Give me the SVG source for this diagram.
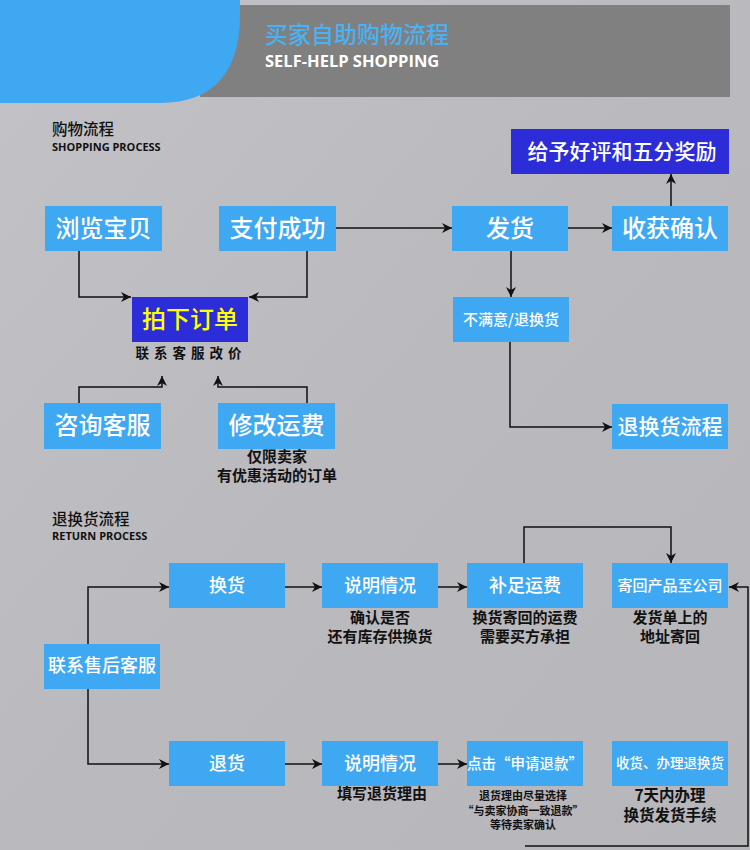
<svg xmlns="http://www.w3.org/2000/svg" width="750" height="850" viewBox="0 0 750 850">
  <defs>
    <linearGradient id="bg" x1="0" y1="0" x2="1" y2="1">
      <stop offset="0" stop-color="#c3c2c7"/>
      <stop offset="0.5" stop-color="#bab9be"/>
      <stop offset="1" stop-color="#b7b6bb"/>
    </linearGradient>
    <marker id="arr" viewBox="0 0 10 10" refX="10" refY="5" markerWidth="10" markerHeight="10" markerUnits="userSpaceOnUse" orient="auto">
      <path d="M0,0 L10,5 L0,10 L3,5 Z" fill="#111"/>
    </marker>
    <style>
      .box{fill:#3fa8f2}
      .dark{fill:#2c2cd8}
      .bt{font-family:"Noto Sans CJK SC","Noto Sans",sans-serif;fill:#fff;text-anchor:middle;font-weight:500}
      .note{font-family:"Noto Sans CJK SC","Noto Sans",sans-serif;fill:#111;text-anchor:middle;font-weight:700}
      .ttl{font-family:"Noto Sans CJK SC","Noto Sans",sans-serif;fill:#111;font-weight:500}
      .en{font-family:"Open Sans","Noto Sans",sans-serif;fill:#111;font-weight:700}
      .la{fill:none;stroke:#111;stroke-width:1.5;marker-end:url(#arr)}
    </style>
  </defs>
  <rect width="750" height="850" fill="url(#bg)"/>

  <g id="header">
    <rect x="200" y="5" width="530" height="92" fill="#808080"/>
    <path d="M0,0 H240 V15 C240,70 215,103 160,103 H0 Z" fill="#3fa8f2"/>
    <text x="265" y="43" font-family="'Noto Sans CJK SC',sans-serif" font-size="23" fill="#4ab2f2" font-weight="500">买家自助购物流程</text>
    <text x="265" y="67" font-family="'Open Sans','Noto Sans',sans-serif" font-size="16.5" fill="#fff" font-weight="700">SELF-HELP SHOPPING</text>
  </g>

  <g id="title-shopping">
    <text class="ttl" x="52" y="135" font-size="15.5">购物流程</text>
    <text class="en" x="52" y="151" font-size="11">SHOPPING PROCESS</text>
  </g>
  <g id="title-return">
    <text class="ttl" x="52" y="525" font-size="15.5">退换货流程</text>
    <text class="en" x="52" y="540" font-size="11">RETURN PROCESS</text>
  </g>

  <g id="connectors">
    <polyline class="la" points="79,251 79,297 131,297"/>
    <polyline class="la" points="307,251 307,297 249,297"/>
    <polyline class="la" points="79,403 79,387 162,387 162,376"/>
    <polyline class="la" points="307,403 307,387 218,387 218,376"/>
    <line class="la" x1="336" y1="228" x2="452" y2="228"/>
    <line class="la" x1="568" y1="228" x2="612" y2="228"/>
    <line class="la" x1="671" y1="206" x2="671" y2="174"/>
    <line class="la" x1="511" y1="251" x2="511" y2="297"/>
    <polyline class="la" points="510,342 510,427 612,427"/>

    <polyline class="la" points="88,666 88,587 169,587"/>
    <polyline class="la" points="88,689 88,764 169,764"/>
    <line class="la" x1="285" y1="587" x2="322" y2="587"/>
    <line class="la" x1="438" y1="587" x2="467" y2="587"/>
    <polyline class="la" points="524,563 524,527 671,527 671,563"/>
    <polyline class="la" points="525,846 748,846 748,587 729,587"/>
    <line class="la" x1="285" y1="764" x2="322" y2="764"/>
    <line class="la" x1="438" y1="764" x2="467" y2="764"/>
  </g>

  <g id="n-browse"><rect class="box" x="45" y="206" width="117" height="45"/><text class="bt" x="103.5" y="237" font-size="24">浏览宝贝</text></g>
  <g id="n-pay"><rect class="box" x="219" y="206" width="117" height="45"/><text class="bt" x="277.5" y="237" font-size="24">支付成功</text></g>
  <g id="n-order"><rect class="dark" x="132" y="297" width="116" height="45"/><text class="bt" x="190" y="328" font-size="24" style="fill:#ffff00">拍下订单</text>
    <text class="note" x="191" y="358" font-size="13.5" letter-spacing="5">联系客服改价</text></g>
  <g id="n-consult"><rect class="box" x="44" y="403" width="117" height="46"/><text class="bt" x="102.5" y="434" font-size="24">咨询客服</text></g>
  <g id="n-fee"><rect class="box" x="218" y="403" width="117" height="46"/><text class="bt" x="276.5" y="434" font-size="24">修改运费</text>
    <text class="note" x="277" y="462" font-size="15">仅限卖家</text>
    <text class="note" x="277" y="481" font-size="15">有优惠活动的订单</text></g>
  <g id="n-ship"><rect class="box" x="452" y="206" width="116" height="45"/><text class="bt" x="510" y="237" font-size="24">发货</text></g>
  <g id="n-confirm"><rect class="box" x="612" y="206" width="116" height="45"/><text class="bt" x="670" y="237" font-size="24">收获确认</text></g>
  <g id="n-praise"><rect class="dark" x="511" y="129" width="218" height="45"/><text class="bt" x="622" y="159" font-size="21">给予好评和五分奖励</text></g>
  <g id="n-unsat"><rect class="box" x="453" y="297" width="116" height="45"/><text class="bt" x="511" y="325" font-size="15">不满意/退换货</text></g>
  <g id="n-returnflow"><rect class="box" x="612" y="404" width="116" height="45"/><text class="bt" x="670" y="434" font-size="21">退换货流程</text></g>

  <g id="n-contact"><rect class="box" x="44" y="644" width="116" height="45"/><text class="bt" x="102" y="672" font-size="18">联系售后客服</text></g>
  <g id="n-exchange"><rect class="box" x="169" y="563" width="116" height="45"/><text class="bt" x="227" y="592" font-size="18">换货</text></g>
  <g id="n-explain1"><rect class="box" x="322" y="563" width="116" height="45"/><text class="bt" x="380" y="592" font-size="18">说明情况</text>
    <text class="note" x="380" y="623" font-size="15">确认是否</text>
    <text class="note" x="380" y="642" font-size="15">还有库存供换货</text></g>
  <g id="n-topup"><rect class="box" x="467" y="563" width="116" height="45"/><text class="bt" x="525" y="592" font-size="18">补足运费</text>
    <text class="note" x="525" y="623" font-size="15">换货寄回的运费</text>
    <text class="note" x="525" y="642" font-size="15">需要买方承担</text></g>
  <g id="n-sendback"><rect class="box" x="612" y="563" width="116" height="45"/><text class="bt" x="670" y="591" font-size="15">寄回产品至公司</text>
    <text class="note" x="670" y="623" font-size="15">发货单上的</text>
    <text class="note" x="670" y="642" font-size="15">地址寄回</text></g>
  <g id="n-refund"><rect class="box" x="169" y="741" width="116" height="45"/><text class="bt" x="227" y="770" font-size="18">退货</text></g>
  <g id="n-explain2"><rect class="box" x="322" y="741" width="116" height="45"/><text class="bt" x="380" y="770" font-size="18">说明情况</text>
    <text class="note" x="382" y="799" font-size="15">填写退货理由</text></g>
  <g id="n-apply"><rect class="box" x="467" y="741" width="116" height="45"/><text class="bt" x="525" y="769" font-size="14.5">点击“申请退款”</text>
    <text class="note" x="523" y="800" font-size="11">退货理由尽量选择</text>
    <text class="note" x="523" y="814.5" font-size="11">“与卖家协商一致退款”</text>
    <text class="note" x="523" y="829" font-size="11">等待卖家确认</text></g>
  <g id="n-receive"><rect class="box" x="612" y="741" width="116" height="45"/><text class="bt" x="670" y="768" font-size="13.5">收货、办理退换货</text>
    <text class="note" x="670" y="801" font-size="15.5">7天内办理</text>
    <text class="note" x="670" y="821" font-size="15.5">换货发货手续</text></g>
</svg>
